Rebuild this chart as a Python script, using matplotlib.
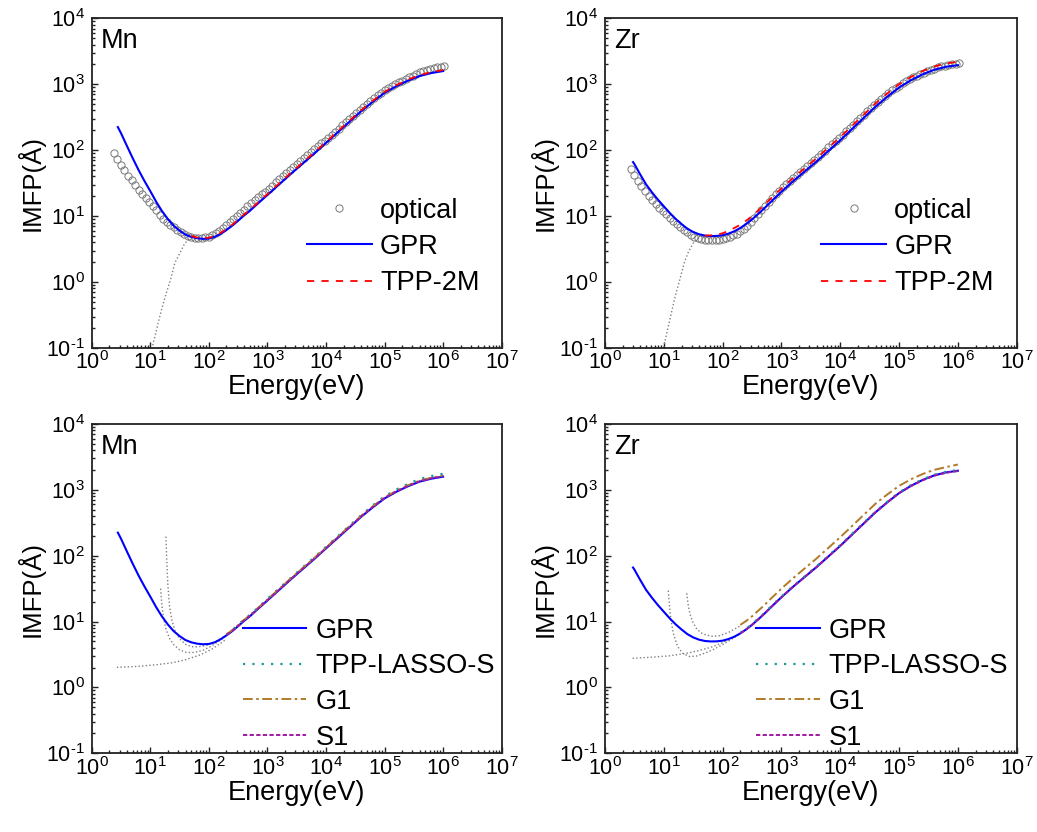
import numpy as np
import matplotlib
matplotlib.use("Agg")
import matplotlib.pyplot as plt
from matplotlib.ticker import LogLocator, NullFormatter

plt.rcParams['font.family'] = ['Liberation Sans', 'DejaVu Sans']
plt.rcParams['mathtext.fontset'] = 'custom'
plt.rcParams['mathtext.rm'] = 'Liberation Sans'
plt.rcParams['mathtext.it'] = 'Liberation Sans:italic'
plt.rcParams['mathtext.bf'] = 'Liberation Sans:bold'
plt.rcParams['mathtext.default'] = 'regular'
plt.rcParams['axes.unicode_minus'] = False

# ---------------- data ----------------
# energy grid of optical data (eV)
E_OPT = [2.40, 2.75, 3.16, 3.63, 4.17, 4.79, 5.50, 6.31, 7.24, 8.32,
         9.55, 11.0, 12.6, 14.5, 16.6, 19.1, 21.9, 25.1, 28.8, 33.1,
         38.0, 43.7, 50.1, 57.5, 66.1, 75.9, 87.1, 100,
         115, 132, 151, 174, 200, 229, 263, 302, 347, 398,
         457, 525, 603, 692, 794, 912, 1047,
         1202, 1380, 1585, 1820, 2089, 2399, 2754, 3162, 3631, 4169,
         4786, 5495, 6310, 7244, 8318, 9550, 10965,
         12589, 14454, 16596, 19055, 21878, 25119, 28840, 33113, 38019, 43652,
         50119, 57544, 66069, 75858, 87096, 100000,
         114815, 131826, 151356, 173780, 199526, 229087, 263027, 301995, 346737, 398107,
         457088, 524807, 602560, 691831, 794328, 912011, 1047129]

MN_OPT = [89.1, 73.3, 60.3, 49.5, 41.3, 35.0, 29.6, 25.1, 21.9, 19.1,
          16.6, 14.3, 12.2, 10.5, 9.20, 8.24, 7.45, 6.76, 6.22, 5.75,
          5.37, 5.08, 4.84, 4.72, 4.65, 4.67, 4.75, 4.90,
          5.18, 5.52, 6.00, 6.58, 7.24, 8.09, 9.04, 10.1, 11.3, 12.6,
          14.1, 15.7, 17.5, 19.4, 21.4, 23.6, 26.1,
          29.1, 32.5, 36.3, 40.6, 45.3, 50.6, 56.2, 62.4, 69.2, 76.7,
          85.1, 94.4, 105, 115, 127, 140, 155,
          172, 191, 212, 237, 264, 295, 330, 368, 411, 457,
          507, 562, 621, 679, 743, 813,
          871, 933, 1000, 1067, 1135, 1208, 1282, 1355, 1432, 1514,
          1574, 1633, 1698, 1750, 1799, 1845, 1897]

ZR_OPT = [51.3, 41.7, 34.3, 28.5, 24.0, 20.4, 17.6, 15.3, 13.5, 11.9,
          10.6, 9.44, 8.41, 7.59, 6.84, 6.24, 5.69, 5.25, 4.90, 4.62,
          4.45, 4.35, 4.30, 4.29, 4.32, 4.39, 4.49,
          4.63, 4.83, 5.09, 5.43, 5.86, 6.40, 7.08, 8.13, 9.33, 10.7,
          12.3, 14.1, 16.4, 19.1, 21.6, 24.3, 27.2,
          30.5, 34.3, 38.0, 42.2, 46.8, 51.9, 57.5, 63.8, 70.8, 78.5,
          87.1, 97.7, 110, 122, 136, 153, 172,
          193, 216, 243, 273, 307, 345, 389, 437, 490, 547,
          605, 668, 735, 804, 877, 955,
          1030, 1109, 1189, 1268, 1349, 1429, 1507, 1585, 1660, 1730,
          1799, 1862, 1919, 1972, 2018, 2056, 2089]

# energy grids for model curves (eV)
E_LOW = [3.16, 3.98, 5.01, 6.31, 7.94, 10.0, 12.6, 15.8, 20.0, 25.1,
         31.6, 39.8, 50.1, 63.1, 79.4, 100, 126, 158, 200, 251,
         316, 398, 501, 631]
E_HIGH = [1000, 1585, 2512, 3981, 6310, 10000, 15849, 25119, 39811, 63096,
          100000, 158489, 251189, 398107, 630957, 1000000]

E_GPR_MN = [2.8] + E_LOW + E_HIGH
MN_GPR = [224, 182, 117, 75.9, 50.1, 34.3, 24.0, 16.6, 12.0, 9.02,
          7.16, 6.03, 5.25, 4.84, 4.62, 4.52, 4.57, 4.84, 5.37, 6.17,
          7.16, 8.51, 10.2, 12.0, 14.5,
          20.9, 30.2, 43.7, 62.4, 89.1, 129, 186, 269, 389, 543,
          741, 933, 1135, 1334, 1479, 1585]

E_GPR_ZR = [3.0] + E_LOW + E_HIGH
ZR_GPR = [66.1, 61.7, 42.7, 30.2, 22.9, 17.8, 14.1, 11.2, 9.12, 7.59,
          6.46, 5.75, 5.31, 5.07, 4.99, 5.01, 5.13, 5.43, 5.89, 6.61,
          7.59, 8.91, 10.7, 12.9, 15.8,
          23.4, 33.9, 47.9, 67.6, 97.7, 141, 209, 309, 457, 646,
          891, 1148, 1413, 1660, 1841, 1950]

E_TPP = [50.1, 63.1, 79.4, 100, 126, 158, 200, 251, 316, 398, 501, 631] + E_HIGH
MN_TPP = [5.01, 4.73, 4.62, 4.70, 5.01, 5.56, 6.38, 7.41, 8.81, 10.6, 12.4, 15.0,
          21.6, 31.3, 45.2, 64.6, 92.3, 133, 193, 279, 403, 562,
          767, 966, 1175, 1380, 1531, 1641]
ZR_TPP = [5.07, 5.11, 5.25, 5.50, 5.96, 6.61, 7.41, 8.51, 10.0, 12.0, 14.5, 17.8,
          26.3, 38.0, 53.7, 75.9, 110, 158, 234, 347, 513, 724,
          1000, 1288, 1585, 1862, 2065, 2188]

# low-energy extension of TPP-2M (gray dotted)
E_TPP_EXT_MN = [10, 11.2, 12.6, 14.1, 15.8, 18.6, 22.4, 26.3, 31.6, 38.0, 44.7, 50.1]
MN_TPP_EXT = [0.076, 0.117, 0.178, 0.269, 0.398, 0.661, 1.12, 1.95, 2.69, 3.72, 4.47, 5.01]
E_TPP_EXT_ZR = [9.33, 10, 11.2, 12.6, 14.1, 15.8, 18.6, 22.4, 26.3, 31.6, 39.8, 50.1]
ZR_TPP_EXT = [0.0794, 0.105, 0.166, 0.263, 0.407, 0.631, 1.07, 2.0, 2.88, 3.89, 4.68, 5.07]

# bottom row models (200 eV - 1 MeV)
E_FIT = [200, 251, 316, 398, 501, 631] + E_HIGH
MN_LASSO = [6.31, 7.41, 8.91, 10.7, 12.6, 15.1, 22.1, 32.0, 46.2, 66.1, 94.4,
            136, 197, 285, 412, 582, 794, 1012, 1230, 1462, 1622, 1758]
MN_G1 = [6.38, 7.41, 8.81, 10.6, 12.4, 15.0, 21.6, 31.3, 45.2, 64.6, 92.3,
         133, 193, 279, 403, 562, 767, 966, 1175, 1380, 1531, 1641]
MN_S1 = [6.24, 7.24, 8.61, 10.4, 12.2, 14.6, 21.1, 30.5, 44.2, 63.1, 90.2,
         130, 188, 272, 394, 550, 750, 944, 1148, 1349, 1496, 1603]
ZR_LASSO = [6.76, 7.76, 9.12, 11.0, 13.2, 16.2, 24.0, 34.7, 49.0, 69.2, 100,
            145, 214, 316, 468, 661, 912, 1175, 1445, 1698, 1884, 1995]
ZR_G1 = [8.91, 10.2, 12.0, 14.5, 17.4, 21.4, 31.6, 45.7, 64.6, 91.2, 132,
         191, 282, 417, 617, 851, 1148, 1445, 1738, 2018, 2213, 2427]
ZR_S1 = [6.61, 7.59, 8.91, 10.7, 12.9, 15.8, 23.4, 33.9, 47.9, 67.6, 97.7,
         141, 209, 309, 457, 646, 891, 1135, 1396, 1641, 1820, 1928]

# low-energy extensions of the bottom-row models (gray dotted)
MN_EXT = [
    ([2.69, 6.31, 12.6, 24.5, 39.8, 70.8, 112, 174, 200],
     [2.02, 2.09, 2.21, 2.38, 2.63, 3.11, 3.80, 4.95, 5.50]),
    ([15.0, 15.8, 16.9, 18.6, 21.4, 25.1, 31.6, 41.7, 56.2, 79.4, 112, 158, 200],
     [31.6, 17.8, 11.2, 7.59, 5.50, 4.47, 3.72, 3.39, 3.39, 3.67, 4.27, 5.25, 6.17]),
    ([18.5, 19.1, 20.0, 21.4, 23.4, 26.3, 31.6, 39.8, 50.1, 63.1, 89.1, 126, 200],
     [195, 89.1, 35.5, 16.6, 10.5, 7.41, 5.50, 4.52, 4.17, 4.12, 4.32, 4.90, 6.17]),
]
ZR_EXT = [
    ([2.95, 6.31, 12.6, 25.1, 39.8, 63.1, 100, 141, 200],
     [2.77, 2.88, 3.02, 3.31, 3.63, 4.07, 4.79, 5.56, 6.61]),
    ([11.9, 12.6, 13.2, 14.5, 17.2, 20.9, 26.9, 35.5, 50.1, 70.8, 100, 141, 200],
     [29.5, 15.8, 10.7, 6.61, 4.17, 3.31, 2.95, 2.99, 3.31, 3.80, 4.47, 5.37, 6.61]),
    ([24.5, 26.3, 28.2, 30.9, 35.5, 42.7, 52.5, 67.6, 89.1, 126, 200],
     [26.9, 16.6, 12.6, 10.0, 7.94, 6.76, 6.24, 5.96, 6.10, 6.84, 8.61]),
]

X_TICKS = [1e0, 1e1, 1e2, 1e3, 1e4, 1e5, 1e6, 1e7]
Y_TICKS = [1e-1, 1e0, 1e1, 1e2, 1e3, 1e4]
X_LABELS = ['$10^{0}$', '$10^{1}$', '$10^{2}$', '$10^{3}$',
            '$10^{4}$', '$10^{5}$', '$10^{6}$', '$10^{7}$']
Y_LABELS = [r'$10^{\text{-}1}$', '$10^{0}$', '$10^{1}$', '$10^{2}$',
            '$10^{3}$', '$10^{4}$']

# ---------------- styles ----------------
C_BLUE = '#0000FF'
C_RED = '#FF0000'
C_GRAY = '#808080'
C_TEAL = '#1A9A9A'
C_BROWN = '#B07A2A'
C_PURPLE = '#A01AA0'
XLAB_FS = 19.5
YLAB_FS = 18.5
TICK_FS = 15.5
LEG_FS = 19.5

fig = plt.figure(figsize=(10.37, 8.32), dpi=100)
rects = {
    'tl': [0.0884, 0.5817, 0.3954, 0.3963],
    'tr': [0.5834, 0.5817, 0.3970, 0.3963],
    'bl': [0.0884, 0.0946, 0.3954, 0.3958],
    'br': [0.5834, 0.0946, 0.3970, 0.3958],
}


def style_axes(ax, name):
    ax.set_xscale('log')
    ax.set_yscale('log')
    ax.set_xlim(1, 1e7)
    ax.set_ylim(0.1, 1e4)
    ax.set_xticks(X_TICKS)
    ax.set_xticklabels(X_LABELS)
    ax.set_yticks(Y_TICKS)
    ax.set_yticklabels(Y_LABELS)
    ax.xaxis.set_minor_locator(LogLocator(base=10, subs=np.arange(2, 10), numticks=20))
    ax.yaxis.set_minor_locator(LogLocator(base=10, subs=np.arange(2, 10), numticks=20))
    ax.xaxis.set_minor_formatter(NullFormatter())
    ax.yaxis.set_minor_formatter(NullFormatter())
    ax.tick_params(which='both', direction='in', top=False, right=False,
                   labelsize=TICK_FS, width=1.0, color='#222222')
    ax.tick_params(axis='x', which='major', length=4, pad=2.5)
    ax.tick_params(axis='y', which='major', length=4, pad=5)
    ax.tick_params(which='minor', length=2.2)
    for s in ax.spines.values():
        s.set_linewidth(1.3)
        s.set_color('#222222')
    ax.set_xlabel('Energy(eV)', fontsize=XLAB_FS, labelpad=0)
    ax.set_ylabel('IMFP(Å)', fontsize=YLAB_FS, labelpad=1)
    ax.text(0.022, 0.91, name, transform=ax.transAxes, fontsize=LEG_FS,
            va='baseline', ha='left')


def top_panel(key, name, opt, gpr_e, gpr, tpp, ext_e, ext, opt_start):
    ax = fig.add_axes(rects[key])
    ax.plot(ext_e, ext, linestyle=(0, (1, 1.6)), color=C_GRAY, lw=1.0)
    ax.plot(E_OPT[opt_start:], opt, linestyle='none', marker='o', ms=5.2,
            mfc='none', mec='#7a7a7a', mew=0.7, label='optical')
    ax.plot(gpr_e, gpr, color=C_BLUE, lw=1.5, label='GPR')
    ax.plot(E_TPP, tpp, color=C_RED, lw=1.3, linestyle=(0, (4, 4)), label='TPP-2M')
    style_axes(ax, name)
    ax.legend(loc='upper left', bbox_to_anchor=(0.525, 0.456), frameon=False,
              fontsize=LEG_FS, numpoints=1, handlelength=2.4, handletextpad=0.3,
              labelspacing=0.38, borderpad=0, borderaxespad=0)
    return ax


def bottom_panel(key, name, gpr_e, gpr, lasso, g1, s1, exts, leg_x):
    ax = fig.add_axes(rects[key])
    for ee, yy in exts:
        ax.plot(ee, yy, linestyle=(0, (1, 1.6)), color=C_GRAY, lw=1.0)
    ax.plot(gpr_e, gpr, color=C_BLUE, lw=1.5, label='GPR', zorder=3)
    ax.plot(E_FIT, lasso, color=C_TEAL, lw=1.6, linestyle=(0, (1, 3.2)),
            label='TPP-LASSO-S', zorder=4)
    ax.plot(E_FIT, g1, color=C_BROWN, lw=1.4, linestyle=(0, (5, 1.8, 1.3, 1.8)),
            label='G1', zorder=4)
    ax.plot(E_FIT, s1, color=C_PURPLE, lw=1.4, linestyle=(0, (2.2, 1.2)),
            label='S1', zorder=4)
    style_axes(ax, name)
    ax.legend(loc='upper left', bbox_to_anchor=(leg_x, 0.412), frameon=False,
              fontsize=LEG_FS, handlelength=2.33, handletextpad=0.33,
              labelspacing=0.356, borderpad=0, borderaxespad=0)
    return ax


top_panel('tl', 'Mn', MN_OPT, E_GPR_MN, MN_GPR, MN_TPP, E_TPP_EXT_MN, MN_TPP_EXT, 0)
top_panel('tr', 'Zr', ZR_OPT, E_GPR_ZR, ZR_GPR, ZR_TPP, E_TPP_EXT_ZR, ZR_TPP_EXT, 1)
bottom_panel('bl', 'Mn', E_GPR_MN, MN_GPR, MN_LASSO, MN_G1, MN_S1, MN_EXT, 0.37)
bottom_panel('br', 'Zr', E_GPR_ZR, ZR_GPR, ZR_LASSO, ZR_G1, ZR_S1, ZR_EXT, 0.368)

fig.savefig('out.png', dpi=100)
